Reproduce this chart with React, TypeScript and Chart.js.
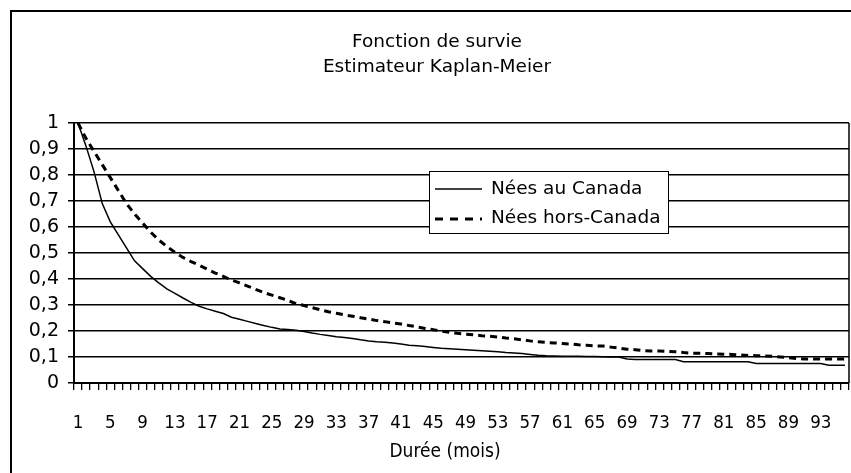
import React, { useEffect, useRef } from 'react';
import { Chart, registerables } from 'chart.js';

Chart.register(...registerables);

const titleLines = ['Fonction de survie', 'Estimateur Kaplan-Meier'];
const xAxisTitle = 'Durée (mois)';
const seriesNames = ['Nées au Canada', 'Nées hors-Canada'];

// Months 1..96 (categories)
const months: string[] = Array.from({ length: 96 }, (_, i) => String(i + 1));
const shownTickLabels = ['1', '5', '9', '13', '17', '21', '25', '29', '33', '37', '41', '45', '49', '53', '57', '61', '65', '69', '73', '77', '81', '85', '89', '93'];
const yTickLabels = ['0', '0,1', '0,2', '0,3', '0,4', '0,5', '0,6', '0,7', '0,8', '0,9', '1'];

const neesAuCanada = [
  1.0, 0.91, 0.81, 0.69, 0.62, 0.57, 0.52, 0.47, 0.44, 0.41,
  0.385, 0.362, 0.345, 0.327, 0.31, 0.295, 0.285, 0.276, 0.267, 0.253,
  0.245, 0.237, 0.229, 0.221, 0.214, 0.208, 0.206, 0.203, 0.198, 0.192,
  0.187, 0.183, 0.178, 0.175, 0.171, 0.166, 0.162, 0.159, 0.157, 0.154,
  0.15, 0.145, 0.143, 0.14, 0.137, 0.134, 0.132, 0.13, 0.128, 0.126,
  0.124, 0.122, 0.12, 0.117, 0.115, 0.113, 0.11, 0.107, 0.105, 0.104,
  0.103, 0.103, 0.103, 0.102, 0.102, 0.101, 0.1, 0.1, 0.092, 0.09,
  0.09, 0.09, 0.09, 0.09, 0.09, 0.082, 0.082, 0.082, 0.082, 0.082,
  0.082, 0.082, 0.082, 0.082, 0.075, 0.075, 0.075, 0.075, 0.075, 0.075,
  0.075, 0.075, 0.075, 0.068, 0.068, 0.068,
];

const neesHorsCanada = [
  1.0, 0.94, 0.89, 0.84, 0.79, 0.74, 0.69, 0.65, 0.615, 0.58,
  0.55, 0.525, 0.503, 0.483, 0.467, 0.453, 0.438, 0.423, 0.41, 0.396,
  0.385, 0.373, 0.36, 0.348, 0.338, 0.328, 0.318, 0.305, 0.298, 0.29,
  0.282, 0.274, 0.268, 0.262, 0.257, 0.251, 0.246, 0.24, 0.236, 0.231,
  0.227, 0.221, 0.216, 0.21, 0.205, 0.2, 0.195, 0.191, 0.188, 0.185,
  0.182, 0.18, 0.177, 0.173, 0.17, 0.166, 0.162, 0.159, 0.156, 0.154,
  0.152, 0.15, 0.147, 0.145, 0.143, 0.142, 0.138, 0.134, 0.13, 0.128,
  0.125, 0.123, 0.123, 0.122, 0.12, 0.117, 0.115, 0.114, 0.113, 0.112,
  0.111, 0.11, 0.108, 0.106, 0.105, 0.104, 0.103, 0.1, 0.097, 0.094,
  0.092, 0.092, 0.092, 0.092, 0.092, 0.092,
];

const FONT = '"DejaVu Sans", sans-serif';
const FONT_COND = '"DejaVu Sans Condensed", "DejaVu Sans", sans-serif';

const decor = {
  id: 'decor',
  beforeDraw(chart: any) {
    const ctx = chart.ctx;
    ctx.save();
    ctx.fillStyle = '#fff';
    ctx.fillRect(0, 0, chart.width, chart.height);
    ctx.strokeStyle = '#000';
    ctx.lineWidth = 2;
    ctx.strokeRect(11, 11, 1000, 1000);
    ctx.restore();
  },
  afterDraw(chart: any) {
    const ctx = chart.ctx;
    const area = chart.chartArea;
    ctx.save();
    // right border of plot
    ctx.strokeStyle = '#000';
    ctx.lineWidth = 1.5;
    ctx.beginPath();
    ctx.moveTo(Math.round(area.right), area.top);
    ctx.lineTo(Math.round(area.right), area.bottom);
    ctx.stroke();

    ctx.fillStyle = '#000';
    ctx.textAlign = 'center';
    ctx.textBaseline = 'middle';
    ctx.font = '18.5px ' + FONT;
    ctx.fillText(titleLines[0], 437, 42);
    ctx.fillText(titleLines[1], 437, 67);
    ctx.font = '19px ' + FONT_COND;
    ctx.fillText(xAxisTitle, 445, 452);

    // legend
    const lx = 429.5, ly = 171.5, lw = 239, lh = 62;
    ctx.fillStyle = '#fff';
    ctx.fillRect(lx, ly, lw, lh);
    ctx.strokeStyle = '#000';
    ctx.lineWidth = 1;
    ctx.strokeRect(lx, ly, lw, lh);

    ctx.lineWidth = 1.5;
    ctx.beginPath();
    ctx.moveTo(435, 189);
    ctx.lineTo(482, 189);
    ctx.stroke();

    ctx.lineWidth = 3;
    ctx.setLineDash([8, 7]);
    ctx.beginPath();
    ctx.moveTo(435, 219);
    ctx.lineTo(482, 219);
    ctx.stroke();
    ctx.setLineDash([]);

    ctx.fillStyle = '#000';
    ctx.textAlign = 'left';
    ctx.font = '18.5px ' + FONT;
    ctx.fillText(seriesNames[0], 491, 189);
    ctx.fillText(seriesNames[1], 491, 218);
    ctx.restore();
  },
};

export default function App() {
  const ref = useRef<HTMLCanvasElement>(null);
  useEffect(() => {
    if (!ref.current) return;
    const chart = new Chart(ref.current, {
      type: 'line',
      data: {
        labels: months,
        datasets: [
          {
            label: seriesNames[0],
            data: neesAuCanada,
            borderColor: '#000',
            borderWidth: 1.5,
            pointRadius: 0,
            tension: 0,
            fill: false,
          },
          {
            label: seriesNames[1],
            data: neesHorsCanada,
            borderColor: '#000',
            borderWidth: 3,
            borderDash: [7, 5],
            pointRadius: 0,
            tension: 0,
            fill: false,
          },
        ],
      },
      options: {
        responsive: false,
        animation: false,
        events: [],
        layout: { padding: { top: 123, left: 0, right: 2, bottom: 0 } },
        plugins: {
          legend: { display: false },
          title: { display: false },
          tooltip: { enabled: false },
        },
        scales: {
          x: {
            type: 'category',
            offset: true,
            grid: {
              display: true,
              offset: true,
              drawOnChartArea: false,
              drawTicks: true,
              tickLength: 7,
              color: '#000',
              lineWidth: 1.3,
            },
            border: { display: true, color: '#000', width: 2 },
            ticks: {
              autoSkip: false,
              maxRotation: 0,
              minRotation: 0,
              padding: 22,
              color: '#000',
              font: { family: FONT_COND, size: 18.5 },
              callback: (_v: any, i: number) => (shownTickLabels.includes(months[i]) ? months[i] : ''),
            },
            afterFit: (scale: any) => {
              scale.height = 90;
              scale.paddingLeft = 0;
              scale.paddingRight = 0;
            },
          },
          y: {
            min: 0,
            max: 1,
            grid: {
              color: '#000',
              lineWidth: 1.5,
              tickLength: 6,
            },
            border: { display: true, color: '#000', width: 2 },
            ticks: {
              stepSize: 0.1,
              autoSkip: false,
              padding: 9,
              color: '#000',
              font: { family: FONT, size: 19 },
              callback: (_v: any, i: number) => yTickLabels[i],
            },
            afterFit: (scale: any) => {
              scale.width = 74;
            },
          },
        },
      },
      plugins: [decor],
    });
    return () => chart.destroy();
  }, []);
  return (
    <div style={{ position: 'absolute', left: 0, top: 0, width: 851, height: 473 }}>
      <canvas ref={ref} width={851} height={473} style={{ display: 'block' }} />
    </div>
  );
}
